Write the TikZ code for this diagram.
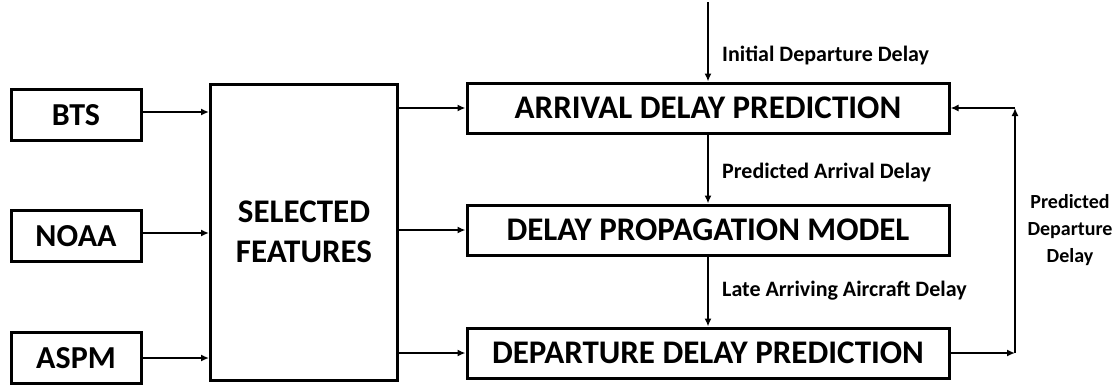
\documentclass[tikz,border=0pt]{standalone}
\usepackage{fontspec}
\setmainfont{Carlito}
\usetikzlibrary{arrows.meta}
\tikzset{
  blockbox/.style={draw, line width=3pt, align=center, inner sep=0pt, font=\bfseries\fontsize{33}{36}\selectfont},
  srcbox/.style={blockbox, minimum width=130pt, minimum height=51pt, font=\bfseries\fontsize{32}{36}\selectfont},
  predbox/.style={blockbox, minimum width=482pt, minimum height=50pt},
  flow/.style={line width=2.5pt, -{Latex[length=8pt,width=7pt]}},
  flowlabel/.style={font=\bfseries\fontsize{22}{25}\selectfont, anchor=west, inner sep=0pt}
}
\begin{document}
\begin{tikzpicture}[x=1pt,y=-1pt]
\useasboundingbox (0,0) rectangle (1119,386);
% data sources
\node[srcbox] (bts) at (76,115){BTS};
\node[srcbox] (noaa) at (76,236){NOAA};
\node[srcbox] (aspm) at (76,358){ASPM};
\node[blockbox, minimum width=187pt, minimum height=296pt, font=\bfseries\fontsize{33}{40}\selectfont] (feat) at (304,232){SELECTED\\FEATURES};
% prediction chain
\node[predbox] (arr) at (708,108){ARRIVAL DELAY PREDICTION};
\node[predbox] (prop) at (708,230){DELAY PROPAGATION MODEL};
\node[predbox] (dep) at (708,353){DEPARTURE DELAY PREDICTION};
\coordinate (init) at (708,2);
\coordinate (backlow) at (1015,353);
\coordinate (backup) at (1015,108);
% connectors
\draw[flow] ([yshift=3pt]bts.east) -- ([yshift=3pt]bts.east -| feat.west);
\draw[flow] ([yshift=3pt]noaa.east) -- ([yshift=3pt]noaa.east -| feat.west);
\draw[flow] (aspm.east) -- (aspm.east -| feat.west);
\draw[flow] (feat.east |- arr.west) -- (arr.west);
\draw[flow] (feat.east |- prop.west) -- (prop.west);
\draw[flow] (feat.east |- dep.west) -- (dep.west);
\draw[flow] (init) -- (arr.north);
\draw[flow] (arr.south) -- (prop.north);
\draw[flow] (prop.south) -- (dep.north);
\draw[flow] (dep.east) -- (backlow);
\draw[flow] (backlow) -- (backup);
\draw[flow] (backup) -- (arr.east);
% labels
\node[flowlabel] (lbinit) at (722,55){Initial Departure Delay};
\node[flowlabel] (lbarr) at (722,173){Predicted Arrival Delay};
\node[flowlabel] (lblate) at (722,291){Late Arriving Aircraft Delay};
\node[flowlabel, anchor=center, align=center, font=\bfseries\fontsize{20}{27}\selectfont] (lbdep) at (1070,230){Predicted\\Departure\\Delay};
\end{tikzpicture}
\end{document}
